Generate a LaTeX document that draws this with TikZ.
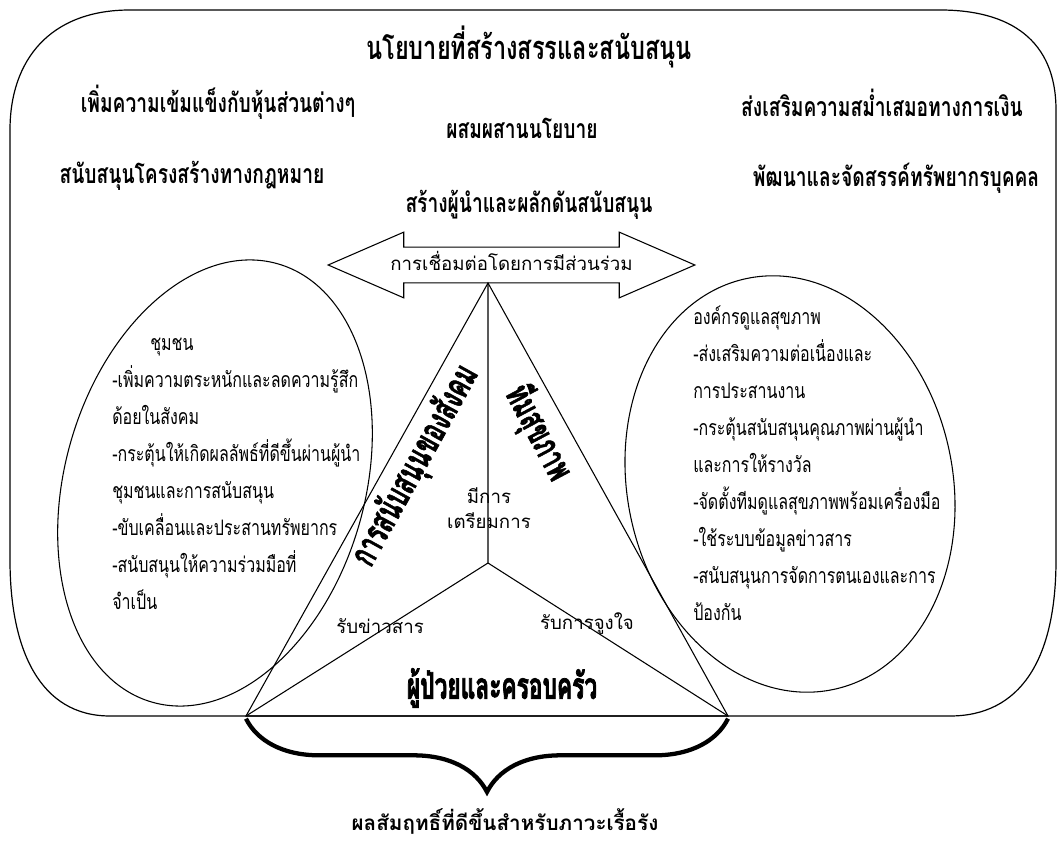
\documentclass[tikz,border=0pt]{standalone}
\usepackage{fontspec}
\usetikzlibrary{shapes.geometric,shapes.arrows,decorations.pathreplacing}
\newfontfamily\thaifont[Script=Thai]{Loma}
\newfontfamily\thaicond[Script=Thai,FakeStretch=0.72]{Loma}
\newfontfamily\thaitall[Script=Thai,FakeStretch=0.75]{Loma}
\newfontfamily\thaiheavy[Script=Thai,FakeStretch=0.62,BoldFeatures={FakeBold=2}]{Loma}
\newfontfamily\thaiblack[Script=Thai,BoldFeatures={FakeBold=2}]{Loma}
\newcommand{\squeezed}[1]{\scalebox{0.62}[1]{#1}}
\begin{document}
\begin{tikzpicture}[
            x=0.75pt, y=-0.75pt,
            every node/.style={inner sep=0pt},
            title/.style={font=\thaicond\bfseries\fontsize{24.5}{27}\selectfont},
            policy/.style={font=\thaicond\bfseries\fontsize{20}{23}\selectfont},
            plain/.style={font=\thaifont\fontsize{14}{18.75}\selectfont},
            bullets/.style={font=\thaitall\fontsize{16}{27.75}\selectfont, align=left},
            axislabel/.style={font=\thaiheavy\bfseries\fontsize{27.5}{30}\selectfont},
            sidelabel/.style={font=\thaiblack\bfseries\fontsize{27.5}{30}\selectfont},
            group/.style={draw, ellipse, line width=0.8pt},
            frame/.style={line width=0.9pt}
        ]
        \useasboundingbox (0,0) rectangle (1058,841);

        \draw[frame] (10,130) -- (10,560) .. controls (10,650) and (40,716) .. (110,716) -- (950,716)
            .. controls (1020,716) and (1056,660) .. (1056,560) -- (1056,110)
            .. controls (1056,40) and (1010,10) .. (940,10) -- (130,10)
            .. controls (50,10) and (10,60) .. (10,130) -- cycle;

        \node[title] (policy) at (529,47) {นโยบายที่สร้างสรรและสนับสนุน};
        \node[policy] (partners) at (218,102) {เพิ่มความเข้มแข็งกับหุ้นส่วนต่างๆ};
        \node[policy] (finance) at (882,103) {ส่งเสริมความสม่ำเสมอทางการเงิน};
        \node[policy] (blend) at (522,128) {ผสมผสานนโยบาย};
        \node[policy] (legal) at (192,176) {สนับสนุนโครงสร้างทางกฎหมาย};
        \node[policy] (staff) at (896,178) {พัฒนาและจัดสรรค์ทรัพยากรบุคคล};
        \node[policy] (leaders) at (529,205) {สร้างผู้นำและผลักดันสนับสนุน};

        \node[draw, double arrow, double arrow tip angle=47, double arrow head extend=11.25pt,
            minimum height=275pt, text height=17pt, text depth=9pt, line width=0.8pt,
            plain] (link) at (511.5,265) {การเชื่อมต่อโดยการมีส่วนร่วม};

        \node[group, minimum width=225pt, minimum height=342pt, rotate=-16] (community) at (215,483) {};
        \node[group, minimum width=244pt, minimum height=315pt, rotate=12] (careorg) at (790,484) {};

        \node[bullets, anchor=west] (communitytext) at (112,474) {\hspace*{28.5pt}ชุมชน\\
            -เพิ่มความตระหนักและลดความรู้สึก\\
            ด้อยในสังคม\\
            -กระตุ้นให้เกิดผลลัพธ์ที่ดีขึ้นผ่านผู้นำ\\
            ชุมชนและการสนับสนุน\\
            -ขับเคลื่อนและประสานทรัพยากร\\
            -สนับสนุนให้ความร่วมมือที่\\
            จำเป็น};
        \node[bullets, anchor=west] (careorgtext) at (693,463) {องค์กรดูแลสุขภาพ\\
            -ส่งเสริมความต่อเนื่องและ\\
            การประสานงาน\\
            -กระตุ้นสนับสนุนคุณภาพผ่านผู้นำ\\
            และการให้รางวัล\\
            -จัดตั้งทีมดูแลสุขภาพพร้อมเครื่องมือ\\
            -ใช้ระบบข้อมูลข่าวสาร\\
            -สนับสนุนการจัดการตนเองและการ\\
            ป้องกัน};

        \coordinate (apex) at (488,283);
        \coordinate (bl) at (246,716);
        \coordinate (br) at (728,716);
        \coordinate (hub) at (488,563);
        \draw[line width=0.8pt] (apex) -- (bl) -- (br) -- cycle;
        \draw[line width=0.8pt] (apex) -- (hub) (bl) -- (hub) -- (br);

        \node[sidelabel, rotate=61] (social) at (416,466) {\squeezed{การสนับสนุนของสังคม}};
        \node[sidelabel, rotate=-62] (team) at (538,433) {\squeezed{ทีมสุขภาพ}};
        \node[axislabel] (patient) at (502,688) {ผู้ป่วยและครอบครัว};

        \node[plain, align=center] (prepared) at (489,508) {มีการ\\เตรียมการ};
        \node[plain] (informed) at (380,626) {รับข่าวสาร};
        \node[plain] (motivated) at (587,624) {รับการจูงใจ};

        \draw[line width=3.2pt, decorate, decoration={brace, mirror, amplitude=55pt, raise=2pt}] (bl) -- (br);
        \node[font=\thaifont\bfseries\fontsize{15.5}{18}\selectfont] (outcome) at (505,821) {ผลสัมฤทธิ์ที่ดีขึ้นสำหรับภาวะเรื้อรัง};
\end{tikzpicture}
\end{document}
